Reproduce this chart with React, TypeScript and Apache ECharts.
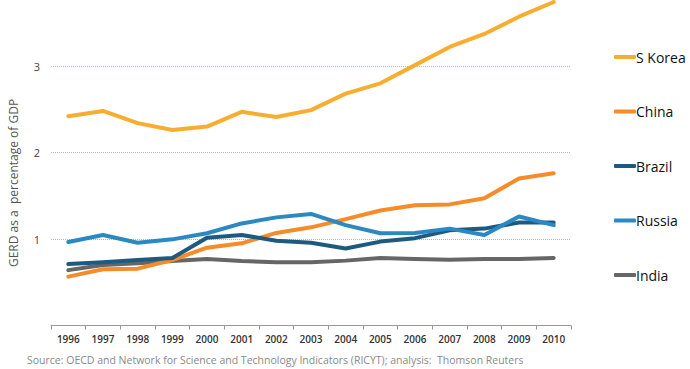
import React, { useEffect, useRef } from "react";
import * as echarts from "echarts";

const years = ["1996","1997","1998","1999","2000","2001","2002","2003","2004","2005","2006","2007","2008","2009","2010"];
const sKorea = [2.42, 2.48, 2.34, 2.26, 2.30, 2.47, 2.41, 2.49, 2.68, 2.80, 3.01, 3.22, 3.37, 3.57, 3.74];
const china = [0.565, 0.65, 0.657, 0.757, 0.90, 0.95, 1.07, 1.135, 1.23, 1.33, 1.39, 1.40, 1.47, 1.70, 1.76];
const brazil = [0.71, 0.73, 0.757, 0.78, 1.015, 1.046, 0.98, 0.957, 0.89, 0.97, 1.01, 1.10, 1.12, 1.19, 1.19];
const russia = [0.965, 1.046, 0.957, 0.996, 1.066, 1.18, 1.25, 1.29, 1.16, 1.066, 1.07, 1.12, 1.046, 1.26, 1.16];
const india = [0.64, 0.70, 0.72, 0.745, 0.77, 0.745, 0.73, 0.73, 0.75, 0.78, 0.77, 0.76, 0.77, 0.77, 0.78];

const seriesDefs = [
  { name: "S Korea", data: sKorea, color: "#F7AE30" },
  { name: "China", data: china, color: "#F68B29" },
  { name: "Brazil", data: brazil, color: "#1D5A80" },
  { name: "Russia", data: russia, color: "#2A88C2" },
  { name: "India", data: india, color: "#666666" },
];

export default function App() {
  const ref = useRef<HTMLDivElement>(null);
  useEffect(() => {
    if (!ref.current) return;
    const chart = echarts.init(ref.current, undefined, { renderer: "svg" });
    chart.setOption({
      animation: false,
      backgroundColor: "#ffffff",
      grid: { left: 51, top: -20.5, width: 520, height: 346, outerBoundsMode: "none", containLabel: false },
      legend: {
        orient: "vertical",
        left: 609,
        top: 45,
        itemGap: 40.5,
        itemWidth: 22,
        itemHeight: 4,
        icon: "roundRect",
        textStyle: {
          fontFamily: "Open Sans",
          fontSize: 14,
          color: "#111111",
          padding: [0, 0, 0, -5],
        },
        data: seriesDefs.map((s) => s.name),
      },
      xAxis: {
        type: "category",
        data: years,
        boundaryGap: true,
        axisLine: { lineStyle: { color: "#999999", width: 1 } },
        axisTick: { show: true, length: 4, lineStyle: { color: "#999999" } },
        axisLabel: {
          fontFamily: "Open Sans",
          fontSize: 10,
          fontWeight: 600,
          color: "#333333",
          margin: 8,
        },
      },
      yAxis: {
        type: "value",
        min: 0,
        max: 4,
        interval: 1,
        axisLine: { show: false },
        axisTick: { show: false },
        axisLabel: {
          fontFamily: "Open Sans",
          fontSize: 11,
          margin: 11,
          color: (v: number) => (v === 1 ? "#a03030" : "#444444"),
          formatter: (v: number) => (v === 0 || v === 4 ? "" : String(v)),
        },
        splitLine: {
          lineStyle: { color: "#a9bad4", type: [1, 1], width: 1 },
        },
      },
      graphic: [
        {
          type: "text",
          x: 13,
          y: 183,
          rotation: Math.PI / 2,
          style: {
            text: "GERD as a  percentage of GDP",
            fontFamily: "Open Sans",
            fontSize: 12,
            fill: "#555555",
            align: "center",
            verticalAlign: "middle",
          },
        },
        {
          type: "text",
          left: 27,
          top: 354,
          style: {
            text: "Source: OECD and Network for Science and Technology Indicators (RICYT); analysis:  Thomson Reuters",
            fontFamily: "Open Sans",
            fontSize: 10.5,
            fill: "#8a8a8a",
          },
        },
      ],
      series: seriesDefs.map((s) => ({
        name: s.name,
        type: "line",
        data: s.data,
        showSymbol: false,
        symbol: "none",
        color: s.color,
        lineStyle: { width: 4, color: s.color, cap: "round", join: "round" },
        z: s.name === "India" ? 1 : 2,
      })),
    });
    return () => chart.dispose();
  }, []);
  return <div ref={ref} style={{ width: 690, height: 369, position: "absolute", left: 0, top: 0 }} />;
}
